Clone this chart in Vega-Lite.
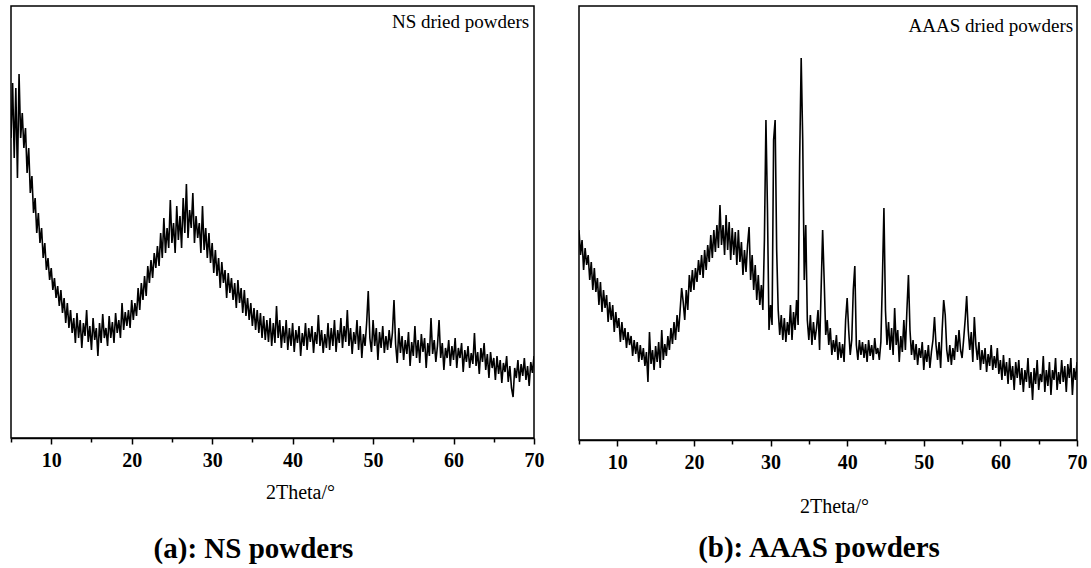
{
  "$schema": "https://vega.github.io/schema/vega-lite/v6.json",
  "background": "white",
  "padding": {"left": 9, "top": 5, "right": 0, "bottom": 0},
  "spacing": 45,
  "bounds": "flush",
  "config": {
    "view": {"stroke": "black", "strokeWidth": 1.5},
    "font": "Liberation Serif",
    "axisX": {
      "values": [5,10,15,20,25,30,35,40,45,50,55,60,65,70],
      "labelExpr": "datum.value % 10 == 0 ? datum.label : ''",
      "tickSize": {"condition": {"test": "datum.value % 10 != 0", "value": 4}, "value": 6},
      "labelFont": "Liberation Serif", "labelFontWeight": "bold", "labelFontSize": 20, "labelColor": "black",
      "labelPadding": 6, "labelFlush": false, "labelOverlap": false,
      "tickColor": "black", "tickWidth": 1.5, "domainColor": "black", "domainWidth": 1.5,
      "grid": false,
      "titleFont": "Liberation Serif", "titleFontWeight": "normal", "titleFontSize": 20, "titleColor": "black",
      "titleBaseline": "alphabetic"
    },
    "title": {"font": "Liberation Serif", "fontWeight": "bold", "fontSize": 29, "color": "black", "orient": "bottom"}
  },
  "datasets": {
    "ns": [
{"t":5.0,"i":300},{"t":5.2,"i":355},{"t":5.4,"i":280},{"t":5.6,"i":350},{"t":5.8,"i":260},{"t":6.0,"i":364},{"t":6.2,"i":300},{"t":6.4,"i":325},{"t":6.6,"i":290},{"t":6.8,"i":310},
{"t":7.0,"i":265},{"t":7.2,"i":290},{"t":7.4,"i":245},{"t":7.6,"i":262},{"t":7.8,"i":225},{"t":8.0,"i":240},{"t":8.2,"i":205},{"t":8.4,"i":225},{"t":8.6,"i":195},{"t":8.8,"i":210},
{"t":9.0,"i":180},{"t":9.2,"i":195},{"t":9.4,"i":168},{"t":9.6,"i":180},{"t":9.8,"i":158},{"t":10.0,"i":170},{"t":10.2,"i":148},{"t":10.4,"i":160},{"t":10.6,"i":140},{"t":10.8,"i":152},
{"t":11.0,"i":132},{"t":11.2,"i":148},{"t":11.4,"i":125},{"t":11.6,"i":140},{"t":11.8,"i":115},{"t":12.0,"i":135},{"t":12.2,"i":110},{"t":12.4,"i":128},{"t":12.6,"i":105},{"t":12.8,"i":120},
{"t":13.0,"i":95},{"t":13.2,"i":125},{"t":13.4,"i":100},{"t":13.6,"i":118},{"t":13.8,"i":90},{"t":14.0,"i":115},{"t":14.2,"i":102},{"t":14.4,"i":128},{"t":14.6,"i":96},{"t":14.8,"i":112},
{"t":15.0,"i":88},{"t":15.2,"i":120},{"t":15.4,"i":98},{"t":15.6,"i":110},{"t":15.8,"i":82},{"t":16.0,"i":115},{"t":16.2,"i":95},{"t":16.4,"i":124},{"t":16.6,"i":100},{"t":16.8,"i":110},
{"t":17.0,"i":92},{"t":17.2,"i":122},{"t":17.4,"i":100},{"t":17.6,"i":116},{"t":17.8,"i":95},{"t":18.0,"i":125},{"t":18.2,"i":105},{"t":18.4,"i":118},{"t":18.6,"i":100},{"t":18.8,"i":135},
{"t":19.0,"i":108},{"t":19.2,"i":126},{"t":19.4,"i":112},{"t":19.6,"i":128},{"t":19.8,"i":110},{"t":20.0,"i":138},{"t":20.2,"i":118},{"t":20.4,"i":135},{"t":20.6,"i":122},{"t":20.8,"i":150},
{"t":21.0,"i":128},{"t":21.2,"i":155},{"t":21.4,"i":138},{"t":21.6,"i":162},{"t":21.8,"i":142},{"t":22.0,"i":172},{"t":22.2,"i":155},{"t":22.4,"i":178},{"t":22.6,"i":160},{"t":22.8,"i":185},
{"t":23.0,"i":170},{"t":23.2,"i":192},{"t":23.4,"i":172},{"t":23.6,"i":205},{"t":23.8,"i":180},{"t":24.0,"i":220},{"t":24.2,"i":185},{"t":24.4,"i":210},{"t":24.6,"i":190},{"t":24.8,"i":238},
{"t":25.0,"i":195},{"t":25.2,"i":215},{"t":25.4,"i":185},{"t":25.6,"i":232},{"t":25.8,"i":198},{"t":26.0,"i":222},{"t":26.2,"i":190},{"t":26.4,"i":240},{"t":26.6,"i":205},{"t":26.8,"i":254},
{"t":27.0,"i":200},{"t":27.2,"i":228},{"t":27.4,"i":210},{"t":27.6,"i":245},{"t":27.8,"i":195},{"t":28.0,"i":222},{"t":28.2,"i":200},{"t":28.4,"i":215},{"t":28.6,"i":185},{"t":28.8,"i":232},
{"t":29.0,"i":188},{"t":29.2,"i":210},{"t":29.4,"i":180},{"t":29.6,"i":205},{"t":29.8,"i":175},{"t":30.0,"i":195},{"t":30.2,"i":165},{"t":30.4,"i":188},{"t":30.6,"i":162},{"t":30.8,"i":180},
{"t":31.0,"i":150},{"t":31.2,"i":176},{"t":31.4,"i":155},{"t":31.6,"i":168},{"t":31.8,"i":140},{"t":32.0,"i":165},{"t":32.2,"i":145},{"t":32.4,"i":160},{"t":32.6,"i":138},{"t":32.8,"i":155},
{"t":33.0,"i":130},{"t":33.2,"i":158},{"t":33.4,"i":135},{"t":33.6,"i":150},{"t":33.8,"i":125},{"t":34.0,"i":148},{"t":34.2,"i":122},{"t":34.4,"i":140},{"t":34.6,"i":118},{"t":34.8,"i":135},
{"t":35.0,"i":112},{"t":35.2,"i":130},{"t":35.4,"i":108},{"t":35.6,"i":128},{"t":35.8,"i":105},{"t":36.0,"i":125},{"t":36.2,"i":100},{"t":36.4,"i":122},{"t":36.6,"i":98},{"t":36.8,"i":118},
{"t":37.0,"i":96},{"t":37.2,"i":120},{"t":37.4,"i":92},{"t":37.6,"i":115},{"t":37.8,"i":95},{"t":38.0,"i":132},{"t":38.2,"i":100},{"t":38.4,"i":118},{"t":38.6,"i":90},{"t":38.8,"i":112},
{"t":39.0,"i":95},{"t":39.2,"i":118},{"t":39.4,"i":88},{"t":39.6,"i":110},{"t":39.8,"i":92},{"t":40.0,"i":115},{"t":40.2,"i":86},{"t":40.4,"i":108},{"t":40.6,"i":95},{"t":40.8,"i":112},
{"t":41.0,"i":82},{"t":41.2,"i":105},{"t":41.4,"i":92},{"t":41.6,"i":115},{"t":41.8,"i":88},{"t":42.0,"i":110},{"t":42.2,"i":96},{"t":42.4,"i":112},{"t":42.6,"i":85},{"t":42.8,"i":106},
{"t":43.0,"i":94},{"t":43.2,"i":123},{"t":43.4,"i":92},{"t":43.6,"i":108},{"t":43.8,"i":85},{"t":44.0,"i":104},{"t":44.2,"i":90},{"t":44.4,"i":115},{"t":44.6,"i":88},{"t":44.8,"i":110},
{"t":45.0,"i":92},{"t":45.2,"i":118},{"t":45.4,"i":86},{"t":45.6,"i":108},{"t":45.8,"i":95},{"t":46.0,"i":120},{"t":46.2,"i":90},{"t":46.4,"i":112},{"t":46.6,"i":96},{"t":46.8,"i":128},
{"t":47.0,"i":92},{"t":47.2,"i":110},{"t":47.4,"i":84},{"t":47.6,"i":106},{"t":47.8,"i":94},{"t":48.0,"i":118},{"t":48.2,"i":88},{"t":48.4,"i":112},{"t":48.6,"i":80},{"t":48.8,"i":104},
{"t":49.0,"i":92},{"t":49.2,"i":115},{"t":49.4,"i":147},{"t":49.6,"i":100},{"t":49.8,"i":86},{"t":50.0,"i":118},{"t":50.2,"i":92},{"t":50.4,"i":110},{"t":50.6,"i":78},{"t":50.8,"i":106},
{"t":51.0,"i":90},{"t":51.2,"i":112},{"t":51.4,"i":85},{"t":51.6,"i":102},{"t":51.8,"i":88},{"t":52.0,"i":108},{"t":52.2,"i":90},{"t":52.4,"i":105},{"t":52.6,"i":138},{"t":52.8,"i":94},
{"t":53.0,"i":75},{"t":53.2,"i":110},{"t":53.4,"i":85},{"t":53.6,"i":102},{"t":53.8,"i":78},{"t":54.0,"i":98},{"t":54.2,"i":84},{"t":54.4,"i":106},{"t":54.6,"i":72},{"t":54.8,"i":96},
{"t":55.0,"i":82},{"t":55.2,"i":112},{"t":55.4,"i":80},{"t":55.6,"i":98},{"t":55.8,"i":75},{"t":56.0,"i":104},{"t":56.2,"i":86},{"t":56.4,"i":100},{"t":56.6,"i":70},{"t":56.8,"i":95},
{"t":57.0,"i":82},{"t":57.2,"i":120},{"t":57.4,"i":84},{"t":57.6,"i":98},{"t":57.8,"i":76},{"t":58.0,"i":92},{"t":58.2,"i":118},{"t":58.4,"i":80},{"t":58.6,"i":95},{"t":58.8,"i":68},
{"t":59.0,"i":90},{"t":59.2,"i":80},{"t":59.4,"i":98},{"t":59.6,"i":72},{"t":59.8,"i":92},{"t":60.0,"i":78},{"t":60.2,"i":100},{"t":60.4,"i":70},{"t":60.6,"i":90},{"t":60.8,"i":80},
{"t":61.0,"i":95},{"t":61.2,"i":66},{"t":61.4,"i":88},{"t":61.6,"i":76},{"t":61.8,"i":92},{"t":62.0,"i":70},{"t":62.2,"i":85},{"t":62.4,"i":74},{"t":62.6,"i":105},{"t":62.8,"i":72},
{"t":63.0,"i":86},{"t":63.2,"i":64},{"t":63.4,"i":90},{"t":63.6,"i":76},{"t":63.8,"i":95},{"t":64.0,"i":68},{"t":64.2,"i":84},{"t":64.4,"i":60},{"t":64.6,"i":86},{"t":64.8,"i":70},
{"t":65.0,"i":80},{"t":65.2,"i":58},{"t":65.4,"i":82},{"t":65.6,"i":64},{"t":65.8,"i":78},{"t":66.0,"i":55},{"t":66.2,"i":75},{"t":66.4,"i":66},{"t":66.6,"i":82},{"t":66.8,"i":56},
{"t":67.0,"i":72},{"t":67.2,"i":50},{"t":67.4,"i":41},{"t":67.6,"i":70},{"t":67.8,"i":60},{"t":68.0,"i":78},{"t":68.2,"i":56},{"t":68.4,"i":74},{"t":68.6,"i":62},{"t":68.8,"i":80},
{"t":69.0,"i":58},{"t":69.2,"i":72},{"t":69.4,"i":52},{"t":69.6,"i":76},{"t":69.8,"i":65},{"t":70.0,"i":82}
    ],
    "aaas": [
{"t":5.0,"i":210},{"t":5.2,"i":185},{"t":5.4,"i":200},{"t":5.6,"i":170},{"t":5.8,"i":192},{"t":6.0,"i":175},{"t":6.2,"i":185},{"t":6.4,"i":160},{"t":6.6,"i":178},{"t":6.8,"i":150},
{"t":7.0,"i":172},{"t":7.2,"i":148},{"t":7.4,"i":162},{"t":7.6,"i":135},{"t":7.8,"i":158},{"t":8.0,"i":128},{"t":8.2,"i":150},{"t":8.4,"i":132},{"t":8.6,"i":145},{"t":8.8,"i":118},
{"t":9.0,"i":138},{"t":9.2,"i":120},{"t":9.4,"i":135},{"t":9.6,"i":108},{"t":9.8,"i":128},{"t":10.0,"i":112},{"t":10.2,"i":122},{"t":10.4,"i":98},{"t":10.6,"i":118},{"t":10.8,"i":100},
{"t":11.0,"i":112},{"t":11.2,"i":92},{"t":11.4,"i":108},{"t":11.6,"i":95},{"t":11.8,"i":104},{"t":12.0,"i":84},{"t":12.2,"i":100},{"t":12.4,"i":86},{"t":12.6,"i":98},{"t":12.8,"i":78},
{"t":13.0,"i":95},{"t":13.2,"i":80},{"t":13.4,"i":92},{"t":13.6,"i":74},{"t":13.8,"i":88},{"t":14.0,"i":58},{"t":14.2,"i":108},{"t":14.4,"i":76},{"t":14.6,"i":90},{"t":14.8,"i":70},
{"t":15.0,"i":94},{"t":15.2,"i":78},{"t":15.4,"i":98},{"t":15.6,"i":72},{"t":15.8,"i":110},{"t":16.0,"i":80},{"t":16.2,"i":96},{"t":16.4,"i":84},{"t":16.6,"i":104},{"t":16.8,"i":90},
{"t":17.0,"i":112},{"t":17.2,"i":96},{"t":17.4,"i":118},{"t":17.6,"i":100},{"t":17.8,"i":125},{"t":18.0,"i":108},{"t":18.2,"i":130},{"t":18.4,"i":152},{"t":18.6,"i":138},{"t":18.8,"i":120},
{"t":19.0,"i":150},{"t":19.2,"i":130},{"t":19.4,"i":165},{"t":19.6,"i":148},{"t":19.8,"i":170},{"t":20.0,"i":150},{"t":20.2,"i":172},{"t":20.4,"i":158},{"t":20.6,"i":180},{"t":20.8,"i":165},
{"t":21.0,"i":185},{"t":21.2,"i":162},{"t":21.4,"i":190},{"t":21.6,"i":170},{"t":21.8,"i":195},{"t":22.0,"i":178},{"t":22.2,"i":205},{"t":22.4,"i":182},{"t":22.6,"i":210},{"t":22.8,"i":188},
{"t":23.0,"i":215},{"t":23.2,"i":192},{"t":23.4,"i":235},{"t":23.6,"i":195},{"t":23.8,"i":215},{"t":24.0,"i":185},{"t":24.2,"i":225},{"t":24.4,"i":190},{"t":24.6,"i":218},{"t":24.8,"i":180},
{"t":25.0,"i":212},{"t":25.2,"i":185},{"t":25.4,"i":208},{"t":25.6,"i":175},{"t":25.8,"i":210},{"t":26.0,"i":178},{"t":26.2,"i":198},{"t":26.4,"i":165},{"t":26.6,"i":190},{"t":26.8,"i":168},
{"t":27.0,"i":195},{"t":27.2,"i":213},{"t":27.4,"i":160},{"t":27.6,"i":185},{"t":27.8,"i":150},{"t":28.0,"i":175},{"t":28.2,"i":140},{"t":28.4,"i":165},{"t":28.6,"i":135},{"t":28.8,"i":155},
{"t":29.0,"i":130},{"t":29.2,"i":200},{"t":29.4,"i":320},{"t":29.6,"i":230},{"t":29.8,"i":110},{"t":30.0,"i":135},{"t":30.2,"i":115},{"t":30.4,"i":300},{"t":30.6,"i":320},{"t":30.8,"i":190},
{"t":31.0,"i":130},{"t":31.2,"i":105},{"t":31.4,"i":125},{"t":31.6,"i":100},{"t":31.8,"i":122},{"t":32.0,"i":98},{"t":32.2,"i":118},{"t":32.4,"i":105},{"t":32.6,"i":135},{"t":32.8,"i":100},
{"t":33.0,"i":128},{"t":33.2,"i":110},{"t":33.4,"i":140},{"t":33.6,"i":115},{"t":33.8,"i":280},{"t":34.0,"i":382},{"t":34.2,"i":300},{"t":34.4,"i":160},{"t":34.6,"i":215},{"t":34.8,"i":120},
{"t":35.0,"i":100},{"t":35.2,"i":125},{"t":35.4,"i":95},{"t":35.6,"i":118},{"t":35.8,"i":100},{"t":36.0,"i":112},{"t":36.2,"i":130},{"t":36.4,"i":90},{"t":36.6,"i":150},{"t":36.8,"i":210},
{"t":37.0,"i":160},{"t":37.2,"i":105},{"t":37.4,"i":120},{"t":37.6,"i":95},{"t":37.8,"i":112},{"t":38.0,"i":85},{"t":38.2,"i":100},{"t":38.4,"i":88},{"t":38.6,"i":105},{"t":38.8,"i":80},
{"t":39.0,"i":98},{"t":39.2,"i":82},{"t":39.4,"i":96},{"t":39.6,"i":78},{"t":39.8,"i":120},{"t":40.0,"i":142},{"t":40.2,"i":110},{"t":40.4,"i":85},{"t":40.6,"i":100},{"t":40.8,"i":150},
{"t":41.0,"i":174},{"t":41.2,"i":95},{"t":41.4,"i":80},{"t":41.6,"i":100},{"t":41.8,"i":85},{"t":42.0,"i":98},{"t":42.2,"i":82},{"t":42.4,"i":96},{"t":42.6,"i":78},{"t":42.8,"i":100},
{"t":43.0,"i":84},{"t":43.2,"i":95},{"t":43.4,"i":80},{"t":43.6,"i":102},{"t":43.8,"i":86},{"t":44.0,"i":92},{"t":44.2,"i":80},{"t":44.4,"i":98},{"t":44.6,"i":160},{"t":44.8,"i":232},
{"t":45.0,"i":130},{"t":45.2,"i":95},{"t":45.4,"i":118},{"t":45.6,"i":90},{"t":45.8,"i":112},{"t":46.0,"i":85},{"t":46.2,"i":132},{"t":46.4,"i":95},{"t":46.6,"i":110},{"t":46.8,"i":78},
{"t":47.0,"i":104},{"t":47.2,"i":88},{"t":47.4,"i":120},{"t":47.6,"i":90},{"t":47.8,"i":130},{"t":48.0,"i":165},{"t":48.2,"i":110},{"t":48.4,"i":85},{"t":48.6,"i":100},{"t":48.8,"i":80},
{"t":49.0,"i":96},{"t":49.2,"i":75},{"t":49.4,"i":92},{"t":49.6,"i":82},{"t":49.8,"i":98},{"t":50.0,"i":70},{"t":50.2,"i":90},{"t":50.4,"i":78},{"t":50.6,"i":95},{"t":50.8,"i":72},
{"t":51.0,"i":88},{"t":51.2,"i":100},{"t":51.4,"i":123},{"t":51.6,"i":95},{"t":51.8,"i":80},{"t":52.0,"i":98},{"t":52.2,"i":72},{"t":52.4,"i":110},{"t":52.6,"i":140},{"t":52.8,"i":125},
{"t":53.0,"i":90},{"t":53.2,"i":78},{"t":53.4,"i":95},{"t":53.6,"i":75},{"t":53.8,"i":92},{"t":54.0,"i":80},{"t":54.2,"i":105},{"t":54.4,"i":88},{"t":54.6,"i":110},{"t":54.8,"i":90},
{"t":55.0,"i":82},{"t":55.2,"i":100},{"t":55.4,"i":120},{"t":55.6,"i":144},{"t":55.8,"i":110},{"t":56.0,"i":90},{"t":56.2,"i":108},{"t":56.4,"i":78},{"t":56.6,"i":123},{"t":56.8,"i":95},
{"t":57.0,"i":80},{"t":57.2,"i":98},{"t":57.4,"i":70},{"t":57.6,"i":90},{"t":57.8,"i":76},{"t":58.0,"i":92},{"t":58.2,"i":68},{"t":58.4,"i":86},{"t":58.6,"i":74},{"t":58.8,"i":95},
{"t":59.0,"i":70},{"t":59.2,"i":84},{"t":59.4,"i":72},{"t":59.6,"i":92},{"t":59.8,"i":66},{"t":60.0,"i":80},{"t":60.2,"i":60},{"t":60.4,"i":85},{"t":60.6,"i":64},{"t":60.8,"i":78},
{"t":61.0,"i":56},{"t":61.2,"i":82},{"t":61.4,"i":60},{"t":61.6,"i":74},{"t":61.8,"i":50},{"t":62.0,"i":78},{"t":62.2,"i":62},{"t":62.4,"i":80},{"t":62.6,"i":55},{"t":62.8,"i":72},
{"t":63.0,"i":48},{"t":63.2,"i":70},{"t":63.4,"i":58},{"t":63.6,"i":82},{"t":63.8,"i":52},{"t":64.0,"i":68},{"t":64.2,"i":40},{"t":64.4,"i":72},{"t":64.6,"i":56},{"t":64.8,"i":80},
{"t":65.0,"i":50},{"t":65.2,"i":66},{"t":65.4,"i":58},{"t":65.6,"i":84},{"t":65.8,"i":48},{"t":66.0,"i":70},{"t":66.2,"i":54},{"t":66.4,"i":78},{"t":66.6,"i":45},{"t":66.8,"i":70},
{"t":67.0,"i":60},{"t":67.2,"i":82},{"t":67.4,"i":50},{"t":67.6,"i":68},{"t":67.8,"i":56},{"t":68.0,"i":80},{"t":68.2,"i":58},{"t":68.4,"i":74},{"t":68.6,"i":48},{"t":68.8,"i":76},
{"t":69.0,"i":62},{"t":69.2,"i":82},{"t":69.4,"i":45},{"t":69.6,"i":72},{"t":69.8,"i":60},{"t":70.0,"i":78}
    ]
  },
  "hconcat": [
    {
      "width": 523,
      "height": 432,
      "title": {"text": "(a): NS powders", "dx": -19, "offset": 33},
      "layer": [
        {
          "data": {"name": "ns"},
          "mark": {"type": "line", "color": "black", "strokeWidth": 1.6, "clip": true},
          "encoding": {
            "x": {"field": "t", "type": "quantitative", "scale": {"domain": [5, 70], "nice": false, "zero": false},
                  "axis": {"title": "2Theta/°", "titleX": 289, "titleY": 60}},
            "y": {"field": "i", "type": "quantitative", "scale": {"domain": [0, 432], "nice": false}, "axis": null}
          }
        },
        {
          "data": {"values": [{"t": 69.4, "i": 410, "label": "NS dried powders"}]},
          "mark": {"type": "text", "align": "right", "baseline": "alphabetic", "font": "Liberation Serif", "fontSize": 19, "color": "black"},
          "encoding": {
            "x": {"field": "t", "type": "quantitative"},
            "y": {"field": "i", "type": "quantitative"},
            "text": {"field": "label"}
          }
        }
      ]
    },
    {
      "width": 498,
      "height": 434,
      "title": {"text": "(b): AAAS powders", "dx": -9, "offset": 18},
      "layer": [
        {
          "data": {"name": "aaas"},
          "mark": {"type": "line", "color": "black", "strokeWidth": 1.6, "clip": true},
          "encoding": {
            "x": {"field": "t", "type": "quantitative", "scale": {"domain": [5, 70], "nice": false, "zero": false},
                  "axis": {"title": "2Theta/°", "titleX": 255, "titleY": 72}},
            "y": {"field": "i", "type": "quantitative", "scale": {"domain": [0, 434], "nice": false}, "axis": null}
          }
        },
        {
          "data": {"values": [{"t": 69.5, "i": 408, "label": "AAAS dried powders"}]},
          "mark": {"type": "text", "align": "right", "baseline": "alphabetic", "font": "Liberation Serif", "fontSize": 19, "color": "black"},
          "encoding": {
            "x": {"field": "t", "type": "quantitative"},
            "y": {"field": "i", "type": "quantitative"},
            "text": {"field": "label"}
          }
        }
      ]
    }
  ]
}
